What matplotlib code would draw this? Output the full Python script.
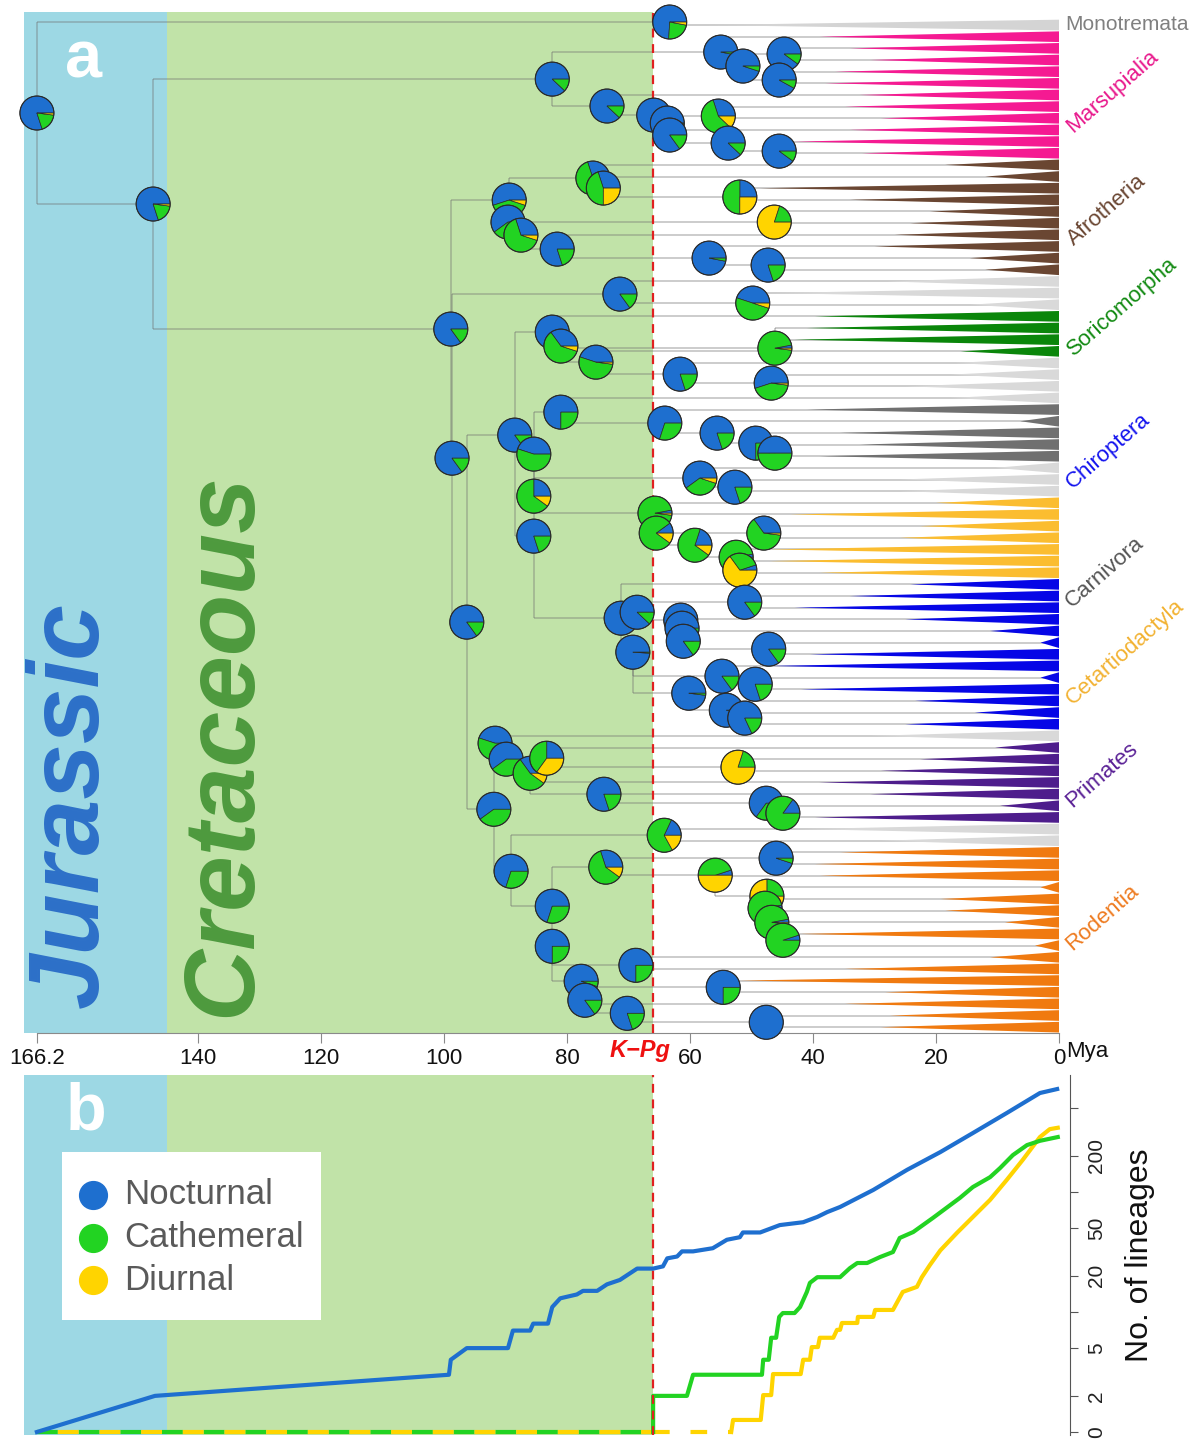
import numpy as np
import matplotlib.pyplot as plt
import matplotlib.transforms as mtransforms
from matplotlib.patches import Wedge, Circle, Polygon, Rectangle
from matplotlib.lines import Line2D

# ---------------- panel a : dated tree with ancestral-state pies ----------------
# internal nodes: name, age (Mya), row position, parent, state probabilities
node_name = ['root', 'mono', 'theria', 'mar', 'mar1', 'mar2', 'mar3', 'mar4', 'mar5', 'mar6',
             'mar7', 'mar8', 'mar9', 'mar10', 'mar11', 'plac', 'afr', 'afr1', 'afr2', 'afr3',
             'afr4', 'afr5', 'afr6', 'afr7', 'afr8', 'afr9', 'exaf', 'xen', 'xen1', 'boreo',
             'laur', 'L1', 'L1a', 'L1b', 'L1c', 'L1d', 'L1e', 'L2', 'L3', 'L4',
             'L5', 'L6', 'L7', 'L8', 'L9', 'L10', 'L11', 'L12', 'L13', 'L14',
             'L15', 'L16', 'L17', 'C0', 'C1', 'C2', 'C3', 'C4', 'C5', 'C6',
             'C7', 'C8', 'C9', 'C10', 'C11', 'C12', 'eua', 'E1', 'E2', 'E3',
             'E4', 'E5', 'E6', 'E7', 'E8', 'G0', 'G1', 'G2', 'G3', 'G4',
             'G5', 'G6', 'G7', 'G8', 'G9', 'G10', 'G11', 'G12', 'G13', 'G14',
             'G15', 'G16']
node_age = [166.2, 63.3, 147.3, 82.4, 55.0, 51.4, 44.7, 45.5, 73.5, 65.9,
            63.7, 55.4, 63.3, 53.8, 45.5, 98.9, 89.4, 75.8, 74.1, 51.9,
            89.6, 87.5, 46.3, 81.6, 56.9, 47.3, 98.7, 71.4, 49.8, 96.3,
            88.5, 82.4, 81.0, 75.3, 46.2, 61.6, 46.8, 85.4, 85.4, 81.0,
            64.1, 55.6, 49.3, 46.2, 85.4, 58.4, 52.7, 65.7, 65.5, 59.2,
            48.0, 52.5, 51.9, 71.2, 68.6, 69.3, 61.5, 61.3, 61.1, 51.1,
            47.2, 54.8, 49.4, 60.2, 54.1, 51.1, 91.9, 91.7, 89.9, 86.0,
            83.3, 52.2, 74.0, 47.6, 44.9, 89.1, 64.2, 82.4, 73.7, 46.0,
            55.9, 47.5, 47.8, 46.7, 44.9, 82.4, 68.8, 77.7, 77.1, 70.2,
            54.6, 47.6]
node_row = [7.55, -0.26, 15.36, 4.64, 2.32, 3.52, 2.49, 4.72, 6.95, 7.73,
            8.41, 7.81, 9.44, 10.13, 10.82, 26.09, 15.02, 13.13, 13.99, 14.76,
            16.91, 18.03, 16.91, 19.23, 20.0, 20.6, 37.17, 23.09, 23.86, 51.24,
            35.19, 26.35, 27.55, 28.93, 27.73, 29.96, 30.73, 43.86, 36.82, 33.22,
            34.16, 35.02, 35.88, 36.74, 40.43, 38.88, 39.66, 41.89, 43.6, 44.64,
            43.6, 45.67, 46.78, 50.9, 50.39, 53.82, 51.07, 51.76, 52.88, 49.53,
            53.56, 55.88, 56.57, 57.34, 58.8, 59.48, 67.3, 61.63, 63.0, 64.21,
            62.92, 63.69, 66.01, 66.78, 67.64, 72.62, 69.53, 75.62, 72.27, 71.5,
            72.96, 74.76, 75.79, 77.0, 78.54, 79.06, 80.69, 82.06, 83.69, 84.81,
            82.58, 85.58]
node_parent = [None, 'root', 'root', 'theria', 'mar', 'mar1', 'mar2', 'mar2', 'mar', 'mar5',
               'mar6', 'mar6', 'mar7', 'mar9', 'mar10', 'theria', 'plac', 'afr', 'afr1', 'afr2',
               'afr', 'afr4', 'afr5', 'afr5', 'afr7', 'afr8', 'plac', 'exaf', 'xen', 'exaf',
               'boreo', 'laur', 'L1', 'L1a', 'L1a', 'L1b', 'L1d', 'laur', 'L2', 'L3',
               'L4', 'L5', 'L6', 'L7', 'L3', 'L9', 'L10', 'L9', 'L12', 'L13',
               'L13', 'L14', 'L16', 'L2', 'C0', 'C0', 'C1', 'C3', 'C4', 'C1',
               'C5', 'C2', 'C8', 'C2', 'C10', 'C11', 'boreo', 'eua', 'E1', 'E2',
               'E2', 'E4', 'E3', 'E6', 'E7', 'eua', 'G0', 'G0', 'G2', 'G3',
               'G3', 'G5', 'G6', 'G7', 'G8', 'G2', 'G10', 'G10', 'G12', 'G13',
               'G12', 'G14']
p_nocturnal = [.80, .74, .80, .88, .97, .95, .90, .92, .88, .99,
               .99, .30, .85, .88, .90, .85, .55, .30, .30, .25,
               .60, .30, 0, .80, .97, .80, .85, .85, .45, .85,
               .85, .75, .35, .45, .03, .80, .55, .80, .45, .75,
               .70, .80, .75, .50, .25, .60, .80, .03, .10, .20,
               .35, .03, .05, .99, .88, .99, .85, .85, .85, .85,
               .85, .85, .80, .98, .99, .82, .60, .45, .60, .35,
               .25, 0, .80, .65, .15, .70, .18, .70, .30, .95,
               .05, 0, .03, .03, .05, .75, .75, .95, .85, .80,
               .75, 1.0]
p_cathemeral = [.18, .23, .18, .12, .03, .05, .10, .08, .12, .01,
                .01, .58, .15, .12, .10, .15, .40, .70, .45, .50,
                .40, .65, .20, .20, .03, .20, .15, .15, .50, .15,
                .15, .25, .60, .53, .95, .20, .43, .20, .55, .25,
                .30, .20, .25, .50, .65, .35, .20, .95, .80, .70,
                .63, .95, .30, .01, .12, .01, .15, .15, .15, .15,
                .15, .15, .20, .02, .01, .18, .40, .55, .40, .55,
                .40, .20, .20, .35, .85, .30, .65, .30, .60, .05,
                .45, .25, .95, .95, .95, .25, .25, .05, .15, .20,
                .25, 0]
p_diurnal = [.02, .03, .02, 0, 0, 0, 0, 0, 0, 0,
             0, .12, 0, 0, 0, 0, .05, 0, .25, .25,
             0, .05, .80, 0, 0, 0, 0, 0, .05, 0,
             0, 0, .05, .02, .02, 0, .02, 0, 0, 0,
             0, 0, 0, 0, .10, .05, 0, .02, .10, .10,
             .02, .02, .65, 0, 0, 0, 0, 0, 0, 0,
             0, 0, 0, 0, 0, 0, 0, 0, 0, .10,
             .35, .80, 0, 0, 0, 0, .17, 0, .10, 0,
             .50, .75, .02, .02, 0, 0, 0, 0, 0, 0,
             0, 0]

# tips (one collapsed clade per row, top to bottom): parent node and crown age of the wedge
tip_parent = ['mono', 'mar1', 'mar3', 'mar3', 'mar4', 'mar4', 'mar5', 'mar8', 'mar8', 'mar9',
              'mar11', 'mar11', 'afr1', 'afr2', 'afr3', 'afr3', 'afr6', 'afr6', 'afr7', 'afr8',
              'afr9', 'afr9', 'xen', 'xen1', 'xen1', 'L1', 'L1c', 'L1c', 'L1b', 'L1d',
              'L1e', 'L1e', 'L4', 'L5', 'L6', 'L7', 'L8', 'L8', 'L10', 'L11',
              'L11', 'L12', 'L12', 'L15', 'L15', 'L16', 'L17', 'L17', 'C0', 'C6',
              'C6', 'C3', 'C4', 'C7', 'C7', 'C8', 'C9', 'C9', 'C11', 'C12',
              'C12', 'E1', 'E4', 'E5', 'E5', 'E3', 'E6', 'E8', 'E8', 'G1',
              'G1', 'G4', 'G4', 'G5', 'G6', 'G7', 'G8', 'G9', 'G9', 'G8',
              'G11', 'G11', 'G15', 'G15', 'G13', 'G16', 'G16']
tip_start = [58, 38.9, 34, 30.7, 36.4, 38, 32.4, 34.8, 29, 34,
             43, 32, 18.5, 12, 48.6, 34, 21, 24.2, 26.7, 30,
             14.5, 12, 28, 47, 14.5, 39.7, 41, 43, 16, 17,
             17.7, 25, 17.7, 41, 6.3, 35.6, 32.4, 38.9, 10.4, 25.9,
             25.9, 20, 43.7, 22.6, 25.9, 47, 47, 38.9, 24.2, 34,
             43, 25, 11.2, 3, 40.5, 47, 3, 42, 23.4, 13.7,
             25, 30.7, 10.4, 22.6, 29, 39, 30.7, 9.6, 39.7, 42,
             29, 35.6, 39.7, 38.9, 3, 19.3, 18.5, 8.8, 42, 3.9,
             11.2, 34.8, 51.9, 28.3, 34.8, 27.5, 29]

# clade blocks (rows, top to bottom)
clade_block = ['Monotremata', 'Marsupialia', 'Afrotheria', 'Xenarthra', 'Soricomorpha', 'other1',
               'Carnivora', 'other2', 'Cetartiodactyla', 'Chiroptera', 'other3', 'Primates',
               'other4', 'Rodentia']
clade_rows = [1, 11, 10, 3, 4, 4, 5, 3, 7, 13, 1, 7, 2, 16]
clade_color = {'Monotremata': '#d4d4d4', 'Marsupialia': '#f51a92', 'Afrotheria': '#6a4632',
               'Xenarthra': '#d9d9d9', 'Soricomorpha': '#0a860a', 'other1': '#d9d9d9',
               'Carnivora': '#707070', 'other2': '#d9d9d9', 'Cetartiodactyla': '#fbbd30',
               'Chiroptera': '#0606e6', 'other3': '#d9d9d9', 'Primates': '#4e1d8c',
               'other4': '#d9d9d9', 'Rodentia': '#f07a10'}

# labels on the right (text, colour)
clade_labels = [('Marsupialia', '#e8188c'), ('Afrotheria', '#6a4632'), ('Soricomorpha', '#128a12'),
                ('Chiroptera', '#1414ee'), ('Carnivora', '#555555'), ('Cetartiodactyla', '#f2b232'),
                ('Primates', '#5a2196'), ('Rodentia', '#ee7b20')]
label_pos = [(1112, 92), (1107, 210), (1122, 307), (1108, 451), (1105, 572), (1125, 652),
             (1102, 775), (1102, 918)]

age_ticks = [166.2, 140, 120, 100, 80, 60, 40, 20, 0]

# ---------------- panel b : lineages through time ----------------
noct_age = [166.2, 147, 99.2, 98.9, 96.3, 89.6, 88.8, 86.0, 85.5, 83.1, 82.4, 81.1, 78.4, 77.4,
            75.1, 73.5, 71.4, 68.6, 66.0, 64.4, 63.7, 62.1, 61.3, 59.5, 56.3, 54.0, 51.9, 51.4,
            48.6, 45.4, 41.6, 39.3, 37.7, 35.6, 30.2, 24.7, 19.3, 14.0, 8.5, 3.1, 0.3]
noct_n = [1, 2, 3, 4, 5, 5, 7, 7, 8, 8, 11, 13, 14, 15,
          15, 17, 18.5, 23, 23, 24, 28, 29, 32, 32, 34, 40, 42, 46,
          46, 53, 56, 62, 68, 75, 104, 153, 215, 310, 455, 668, 721]
cath_origin = 66.0
cath_age = [66.0, 66.0, 60.5, 59.5, 48.3, 48.1, 47.2, 46.8, 46.0, 45.5, 44.9, 43.0, 42.1, 41.0,
            40.5, 39.3, 35.6, 34.0, 32.8, 31.2, 29.1, 27.0, 25.9, 23.7, 20.5, 16.1, 14.0, 11.2,
            9.6, 7.5, 5.2, 3.1, 0.2]
cath_n = [1, 2, 2, 3, 3, 4, 4, 6.1, 6.1, 9.1, 9.8, 9.8, 11, 14.7,
          17.5, 19.5, 19.5, 23.2, 25.6, 25.6, 28.7, 31.6, 41.4, 46.4, 60.8, 89.4, 110, 133,
          158, 203, 246, 267, 287]
diur_origin = 53.3
diur_age = [53.3, 53.0, 48.5, 48.1, 46.8, 46.5, 42.0, 41.6, 40.5, 40.2, 39.2, 38.9, 36.7, 36.1,
            35.6, 35.3, 32.8, 32.7, 30.2, 29.9, 27.0, 25.4, 23.1, 22.3, 21.0, 19.3, 16.6, 14.0,
            11.2, 8.5, 5.9, 3.1, 1.5, 0.2]
diur_n = [1, 1.26, 1.26, 2.03, 2.03, 3.04, 3.04, 4, 4, 5.1, 5.1, 6.1, 6.1, 7.1,
          7.1, 8.1, 8.1, 9.1, 9.1, 10.4, 10.4, 14.7, 16.2, 19.5, 24.6, 32.6, 45.6, 61.9,
          86, 126, 185, 287, 334, 343]
ltt_ticks = [1, 2, 5, 10, 20, 50, 100, 200, 500]
ltt_ticklabels = ['0', '2', '5', '', '20', '50', '', '200', '']

states = ['Nocturnal', 'Cathemeral', 'Diurnal']

# ---------------- styling ----------------
BLUE, GREEN, YELLOW = '#1e6fcf', '#22d322', '#ffd400'
JUR, CRE = '#9dd8e4', '#c1e3a8'
KPG = 66.0
NARROW = ['Liberation Sans Narrow', 'Liberation Sans', 'DejaVu Sans']
SANS = ['Liberation Sans', 'DejaVu Sans']

W, H = 1201, 1440
fig = plt.figure(figsize=(W / 100, H / 100), dpi=100)


def fx(px):
    return px / W


def fy(py):
    return 1 - py / H


# ---- panel a ----
ax = fig.add_axes([fx(24), fy(1033), fx(1059) - fx(24), fy(12) - fy(1033)])
ax.axvspan(168.3, 145, color=JUR, lw=0, zorder=0)
ax.axvspan(145, KPG, color=CRE, lw=0, zorder=0)

idx = {n: i for i, n in enumerate(node_name)}
lc = dict(color='#707070', alpha=0.45, lw=1.1, zorder=2, solid_capstyle='butt')
for i, p in enumerate(node_parent):
    if p is None:
        continue
    j = idx[p]
    ax.plot([node_age[j], node_age[i]], [node_row[i], node_row[i]], **lc)
    ax.plot([node_age[j], node_age[j]], [node_row[j], node_row[i]], **lc)

tip_color = []
for c, n in zip(clade_block, clade_rows):
    tip_color += [clade_color[c]] * n

half = 0.46
for r, (p, s) in enumerate(zip(tip_parent, tip_start)):
    j = idx[p]
    ax.plot([node_age[j], 0], [r, r], **lc)
    ax.plot([node_age[j], node_age[j]], [node_row[j], r], **lc)
    ax.add_patch(Polygon([(s, r), (0, r - half), (0, r + half)], closed=True,
                         facecolor=tip_color[r], edgecolor='none', zorder=3))

ax.axvline(KPG, color='#e02020', lw=1.6, ls=(0, (4, 3)), zorder=3.5)

R = 0.17  # pie radius in inches
for k in range(len(node_name)):
    fr = [p_nocturnal[k], p_cathemeral[k], p_diurnal[k]]
    tot = sum(fr)
    tr = fig.dpi_scale_trans + mtransforms.ScaledTranslation(node_age[k], node_row[k], ax.transData)
    a0 = 0.0
    for f, c in zip(fr, [BLUE, GREEN, YELLOW]):
        if f <= 0:
            continue
        a1 = a0 + 360.0 * f / tot
        ax.add_patch(Wedge((0, 0), R, a0, a1, facecolor=c, edgecolor='#2a2a2a', lw=0.5,
                           transform=tr, zorder=5 + k * 0.01, clip_on=False))
        a0 = a1
    ax.add_patch(Circle((0, 0), R, fill=False, edgecolor='#2a2a2a', lw=0.8,
                        transform=tr, zorder=5 + k * 0.01 + 0.005, clip_on=False))

ax.set_xlim(168.3, 0)
ax.set_ylim(86.5, -1.12)
for s in ['top', 'left', 'right']:
    ax.spines[s].set_visible(False)
ax.spines['bottom'].set_color('#8a8a8a')
ax.spines['bottom'].set_bounds(166.2, 0)
ax.set_yticks([])
ax.set_xticks(age_ticks)
ax.set_xticklabels(['166.2', '140', '120', '100', '80', '60', '40', '20', '0'])
ax.tick_params(axis='x', direction='out', length=7, color='#8a8a8a', pad=4)
for t in ax.get_xticklabels():
    t.set_fontfamily(NARROW)
    t.set_fontsize(16)
    t.set_color('#111111')

ax.text(fx(72), fy(805), 'Jurassic', transform=fig.transFigure, rotation=90, ha='center',
        va='center', fontsize=72, fontweight='bold', fontstyle='italic', color='#2d70c8',
        family=SANS, zorder=1)
ax.text(fx(224), fy(745), 'Cretaceous', transform=fig.transFigure, rotation=90, ha='center',
        va='center', fontsize=72, fontweight='bold', fontstyle='italic', color='#4e9a3e',
        family=SANS, zorder=1)
ax.text(fx(84), fy(60), 'a', transform=fig.transFigure, ha='center', va='center',
        fontsize=48, fontweight='bold', color='white', family=SANS, zorder=6)

fig.text(fx(1065), fy(25), 'Monotremata', ha='left', va='center', fontsize=15,
         color='#808080', family=SANS)
for (lab, col), (px, py) in zip(clade_labels, label_pos):
    fig.text(fx(px), fy(py), lab, ha='center', va='center', rotation=41,
             rotation_mode='anchor', fontsize=16, color=col, family=SANS)
fig.text(fx(640), fy(1050), 'K\u2212Pg', ha='center', va='center', fontsize=17,
         fontweight='bold', fontstyle='italic', color='#ee1111', family=SANS)
fig.text(fx(1066), fy(1051), 'Mya', ha='left', va='center', fontsize=16,
         color='#111111', family=NARROW)

# ---- panel b ----
bx = fig.add_axes([fx(24), fy(1435), fx(1070) - fx(24), fy(1075) - fy(1435)])
bx.axvspan(168.3, 145, color=JUR, lw=0, zorder=0)
bx.axvspan(145, KPG, color=CRE, lw=0, zorder=0)
bx.set_yscale('log')
lw = 3.0
bx.plot([166.2, cath_origin], [1, 1], color=GREEN, lw=lw, ls=(0, (5, 5)), clip_on=False, zorder=3)
bx.plot([166.2, cath_origin], [1, 1], color=YELLOW, lw=lw, ls=(5, (5, 5)), clip_on=False, zorder=3)
bx.plot([cath_origin, diur_origin], [1, 1], color=YELLOW, lw=lw, ls=(0, (4, 5)), clip_on=False, zorder=3)
bx.plot(diur_age, diur_n, color=YELLOW, lw=lw, clip_on=False, zorder=3)
bx.plot(cath_age, cath_n, color=GREEN, lw=lw, clip_on=False, zorder=4)
bx.plot(noct_age, noct_n, color=BLUE, lw=lw, clip_on=False, zorder=5)
bx.axvline(KPG, color='#e02020', lw=1.6, ls=(0, (4, 3)), zorder=4.5)

bx.set_xlim(168.3, -1.79)
bx.set_ylim(0.944, 944)
for s in ['top', 'left', 'bottom']:
    bx.spines[s].set_visible(False)
bx.spines['right'].set_color('#555555')
bx.set_xticks([])
bx.yaxis.tick_right()
bx.yaxis.set_label_position('right')
bx.set_yticks(ltt_ticks)
bx.set_yticks([], minor=True)
bx.set_yticklabels(ltt_ticklabels, rotation=90, va='center', fontsize=15, color='#222222',
                   family=SANS)
bx.tick_params(axis='y', direction='out', length=6, color='#555555', pad=6)
bx.set_ylabel('No. of lineages', fontsize=23, family=SANS, color='#111111', labelpad=14)

# legend box
fig.patches.append(Rectangle((fx(62), fy(1320)), fx(321) - fx(62), fy(1152) - fy(1320),
                             transform=fig.transFigure, facecolor='white', edgecolor='none',
                             zorder=6))
for k, (lab, col) in enumerate(zip(states, [BLUE, GREEN, YELLOW])):
    yy = fy(1195 + 42.5 * k)
    fig.add_artist(Line2D([fx(93)], [yy], marker='o', markersize=20, color=col, lw=0,
                          transform=fig.transFigure, zorder=7))
    fig.text(fx(124), yy, lab, ha='left', va='center', fontsize=25, color='#5a5a5a',
             family=SANS, zorder=7)

fig.text(fx(86), fy(1112), 'b', ha='center', va='center', fontsize=48, fontweight='bold',
         color='white', family=SANS)

fig.savefig('out.png', dpi=100)
